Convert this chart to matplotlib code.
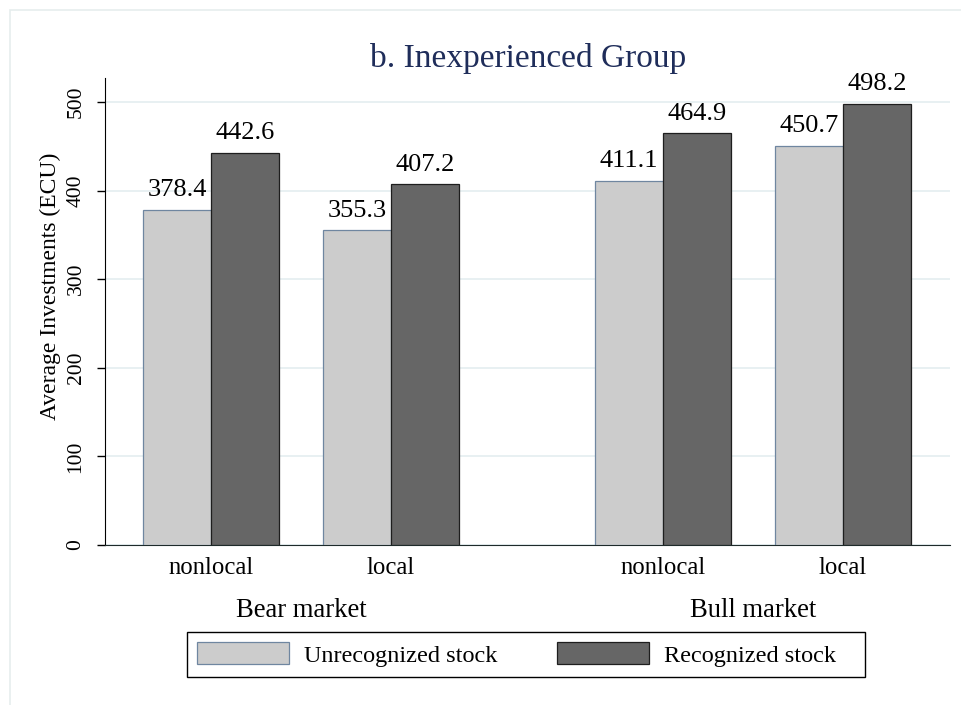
import matplotlib
matplotlib.use("Agg")
import matplotlib.pyplot as plt
from matplotlib.patches import Patch, Rectangle
import numpy as np

plt.rcParams['font.family'] = ['Liberation Serif', 'DejaVu Serif']

title = "b. Inexperienced Group"
groups = ["Bear market", "Bull market"]
categories = ["nonlocal", "local"]
series_names = ["Unrecognized stock", "Recognized stock"]
unrecognized = [378.4, 355.3, 411.1, 450.7]   # bear nonlocal, bear local, bull nonlocal, bull local
recognized = [442.6, 407.2, 464.9, 498.2]
yticks = [0, 100, 200, 300, 400, 500]
ylabel = "Average Investments (ECU)"

W, H = 962, 705
fig = plt.figure(figsize=(W / 100, H / 100), dpi=100)

# outer light frame
fig.patches.append(Rectangle((10 / W, -0.01), 1.1, 1 - 10 / H + 0.01, transform=fig.transFigure,
                             fill=False, edgecolor='#e6eded', linewidth=1.2, zorder=0))

ax = fig.add_axes([105 / W, 1 - 545 / H, (950 - 105) / W, (545 - 78) / H])

bw = 1.0
cat_span = 2.663
group_span = 6.686
centers = []
for g in range(len(groups)):
    for c in range(len(categories)):
        centers.append(g * group_span + c * cat_span)
centers = np.array(centers)

light, light_edge = '#cccccc', '#6f86a0'
dark, dark_edge = '#666666', '#1e1e1e'
b1 = ax.bar(centers - bw / 2, unrecognized, width=bw, color=light, edgecolor=light_edge, linewidth=0.9, zorder=3)
b2 = ax.bar(centers + bw / 2, recognized, width=bw, color=dark, edgecolor=dark_edge, linewidth=0.9, zorder=3)

for bars, vals in ((b1, unrecognized), (b2, recognized)):
    for rect, v in zip(bars, vals):
        ax.annotate(f"{v:.1f}", (rect.get_x() + rect.get_width() / 2, v), xytext=(0, 6),
                    textcoords='offset points', ha='center', va='bottom', fontsize=19, color='black')

ax.set_xlim(centers[0] - 1.568, centers[-1] + 1.583)
ax.set_ylim(0, 527)
ax.set_yticks(yticks)
ax.set_yticklabels([str(t) for t in yticks], rotation=90, va='center', fontsize=15.5)
ax.yaxis.grid(True, color='#e6eff1', linewidth=1.3, zorder=0)
ax.set_axisbelow(True)
ax.set_xticks(centers)
ax.set_xticklabels(categories * len(groups), fontsize=17.8)
ax.tick_params(axis='x', length=0, pad=9)
ax.tick_params(axis='y', length=6, width=1, pad=8, color='black')
for s in ('top', 'right'):
    ax.spines[s].set_visible(False)
ax.spines['left'].set_color('black')
ax.spines['bottom'].set_color('#1e2a2a')

fig.text(40 / W, 1 - 286 / H, ylabel, rotation=90, ha='left', va='center', fontsize=17)

# group labels
for g, name in enumerate(groups):
    xc = (centers[g * 2] + centers[g * 2 + 1]) / 2
    xf = fig.transFigure.inverted().transform(ax.transData.transform((xc, 0)))[0]
    fig.text(xf, 1 - 617 / H, name, ha='center', va='baseline', fontsize=19.2)

fig.text(528 / W, 1 - 67 / H, title, ha='center', va='baseline', fontsize=24, color='#1f2d5a')

# legend: box drawn separately (Stata-style wider right padding)
fig.patches.append(Rectangle((187 / W, 1 - 677 / H), (865 - 187) / W, 45 / H, transform=fig.transFigure,
                             fill=False, edgecolor='black', linewidth=1.0, zorder=5))
em = 17.5 * 100 / 72
handles = [Patch(facecolor=light, edgecolor=light_edge, linewidth=0.9),
           Patch(facecolor=dark, edgecolor=dark_edge, linewidth=0.9)]
leg = fig.legend(handles, series_names, loc='center left', bbox_to_anchor=(187 / W, 1 - 654.5 / H), ncol=2,
                 fontsize=17.5, frameon=False,
                 handlelength=92 / em, handleheight=24 / em, columnspacing=60 / em,
                 handletextpad=15 / em, borderpad=10 / em, borderaxespad=0)

fig.savefig("out.png", dpi=100)
